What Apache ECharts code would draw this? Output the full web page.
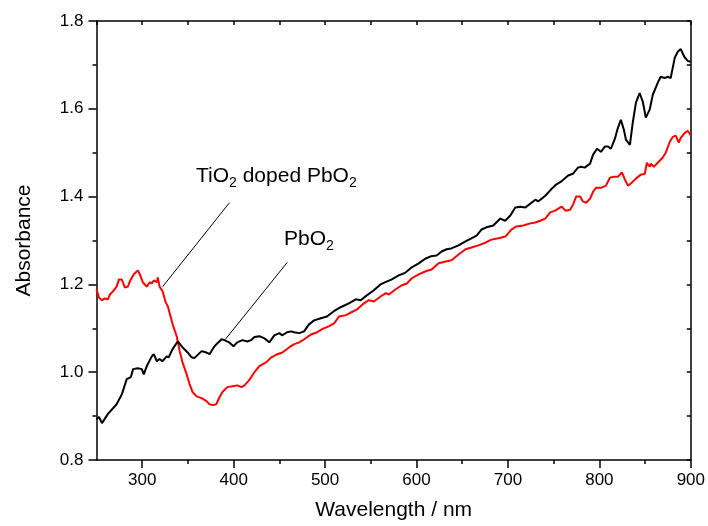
<!DOCTYPE html>
<html>
<head>
<meta charset="utf-8">
<script src="https://cdn.jsdelivr.net/npm/echarts@6/dist/echarts.min.js"></script>
<style>html,body{margin:0;padding:0;background:#fff}#c{width:708px;height:526px}</style>
</head>
<body>
<div id="c"></div>
<script>
// PbO2 (black)
const pbo2Wl = [250,252.7,256,262.5,272,277.8,283,287.6,290,295,299.6,301.7,305,310.5,312.6,316,319,322,326.8,329,333,338.8,344,349.7,354,357,365,370,373.6,379,386.8,390,395,399.8,404,409.6,415,419,422.7,428.2,433.7,439,444.5,450,453,458.4,463,466,471.8,477,482.4,488,495.5,502,509.6,517,526,533.6,539,545.6,553,560.6,566,572.5,580,588,594.8,602.4,610,615.6,622,627.5,633,638,646,653.6,660,665.7,671,676.5,684,691.7,697,702.6,708,713.5,719,724.5,730,733,740.8,747,753,758,765.8,771,776.6,780,784,789.8,793,797.4,801.7,806,809.4,812.6,817,820,823.5,826.8,829,833.4,836.6,840,844,847.5,850.8,855,858.4,863.8,867,871.4,874.7,878,882.4,885.7,889,893,896.7,900];
const pbo2Abs = [0.893,0.898,0.884,0.905,0.927,0.950,0.984,0.989,1.007,1.009,1.007,0.995,1.014,1.036,1.041,1.025,1.030,1.025,1.036,1.034,1.052,1.070,1.057,1.045,1.034,1.032,1.048,1.045,1.041,1.059,1.075,1.073,1.068,1.059,1.068,1.073,1.070,1.073,1.080,1.082,1.077,1.068,1.084,1.089,1.084,1.091,1.093,1.091,1.089,1.093,1.109,1.118,1.123,1.127,1.139,1.148,1.157,1.166,1.164,1.175,1.186,1.200,1.205,1.211,1.220,1.227,1.239,1.248,1.259,1.264,1.266,1.275,1.280,1.282,1.289,1.298,1.305,1.311,1.325,1.330,1.334,1.350,1.345,1.357,1.375,1.377,1.375,1.384,1.393,1.389,1.402,1.416,1.428,1.434,1.448,1.452,1.466,1.468,1.466,1.475,1.495,1.509,1.502,1.514,1.514,1.509,1.532,1.555,1.575,1.552,1.530,1.518,1.570,1.614,1.636,1.616,1.580,1.598,1.632,1.659,1.673,1.670,1.673,1.670,1.716,1.730,1.736,1.718,1.709,1.707];
// TiO2 doped PbO2 (red)
const tio2Wl = [250,252.7,256,259.3,262.5,264.7,268,272,274.5,277.8,281,284.3,286.5,290.8,295.2,297.4,300.6,305,308.3,310.5,312.6,316,317,319,322.4,325.7,328,331,333.3,337.7,341,344,348.6,351.8,355,359.5,365,370.3,373.6,377,381,384.5,387.8,393,398.7,404,408.5,411.8,417,422.7,428.2,435.8,441.3,447.8,453.3,460.9,466.3,471.8,477.2,484.8,491.3,496.7,504.4,509.8,515.3,522.9,528.3,534.9,542.5,547.9,553.4,561,566.5,569.7,577.3,583.9,589.5,594.8,602.4,610,616.5,624.2,631.8,638.3,646,653.6,660.1,667.7,675.3,681.9,689.5,697.2,703.7,709.2,716.8,724.4,729.9,735.3,740.8,746.2,751.7,755.5,758.8,763,768,771.3,774.5,778.9,782,785.4,789.8,793,796.3,801.8,807.2,811.5,814.8,820.2,824.6,827.9,831.2,834.4,839.9,845.3,849.7,851.9,855.1,856.3,859.5,863.9,869.3,872.6,877,880.2,883.5,886.8,889,893.3,896.6,900];
const tio2Abs = [1.189,1.170,1.164,1.168,1.166,1.177,1.184,1.195,1.211,1.211,1.193,1.195,1.207,1.223,1.232,1.223,1.205,1.195,1.205,1.202,1.209,1.205,1.216,1.195,1.184,1.159,1.150,1.127,1.109,1.082,1.048,1.023,0.995,0.973,0.955,0.945,0.941,0.934,0.927,0.925,0.927,0.943,0.955,0.966,0.968,0.970,0.966,0.970,0.982,1.000,1.014,1.023,1.034,1.041,1.045,1.057,1.064,1.068,1.075,1.086,1.091,1.098,1.105,1.111,1.127,1.130,1.136,1.143,1.157,1.164,1.161,1.173,1.180,1.177,1.189,1.198,1.202,1.214,1.223,1.230,1.234,1.248,1.252,1.255,1.268,1.280,1.284,1.289,1.295,1.302,1.305,1.309,1.325,1.332,1.334,1.339,1.341,1.345,1.350,1.364,1.368,1.373,1.377,1.368,1.370,1.382,1.400,1.400,1.389,1.386,1.395,1.411,1.420,1.420,1.425,1.443,1.445,1.445,1.455,1.439,1.425,1.430,1.441,1.450,1.452,1.477,1.468,1.475,1.468,1.477,1.489,1.500,1.525,1.536,1.539,1.523,1.534,1.545,1.550,1.539];
// tick values
const xMajorTicks = [300,400,500,600,700,800,900];
const xMinorTicks = [350,450,550,650,750,850];
// leader lines [from, to] in data coordinates
const tio2Leader = [[322.4,1.195],[395.4,1.386]];
const pbo2Leader = [[391,1.075],[458.6,1.250]];

const FONT = '"Liberation Sans", Arial, sans-serif';
const zip = (a,b) => a.map((v,i)=>[v,b[i]]);
const chart = echarts.init(document.getElementById('c'), null, {renderer:'canvas'});
const axisLineStyle = {color:'#000', width:1.5};
chart.setOption({
  animation:false,
  backgroundColor:'#fff',
  grid:{left:96.5, right:14.3, top:21, bottom:65},
  xAxis:[
    {type:'value', min:250, max:900, position:'bottom',
     name:'Wavelength / nm', nameLocation:'middle', nameGap:40,
     nameTextStyle:{fontSize:21, fontFamily:FONT, color:'#000'},
     axisLine:{show:true, lineStyle:axisLineStyle},
     axisTick:{show:true, length:8, lineStyle:axisLineStyle, customValues:xMajorTicks},
     axisLabel:{show:true, customValues:xMajorTicks, fontSize:17, fontFamily:FONT, color:'#000', margin:12},
     splitLine:{show:false}},
    {type:'value', min:250, max:900, position:'bottom',
     axisLine:{show:false},
     axisTick:{show:true, length:4, lineStyle:axisLineStyle, customValues:xMinorTicks},
     axisLabel:{show:false}, splitLine:{show:false}},
    {type:'value', min:250, max:900, interval:50, position:'top',
     axisLine:{show:true, lineStyle:axisLineStyle},
     axisTick:{show:true, inside:true, length:4, lineStyle:axisLineStyle},
     axisLabel:{show:false}, splitLine:{show:false}}
  ],
  yAxis:[
    {type:'value', min:0.8, max:1.8, interval:0.2, position:'left',
     name:'Absorbance', nameLocation:'middle', nameGap:62,
     nameTextStyle:{fontSize:21, fontFamily:FONT, color:'#000'},
     axisLine:{show:true, lineStyle:axisLineStyle},
     axisTick:{show:true, length:8, lineStyle:axisLineStyle},
     minorTick:{show:true, splitNumber:2, length:4, lineStyle:axisLineStyle},
     axisLabel:{fontSize:17, fontFamily:FONT, color:'#000', margin:13, formatter:v=>v.toFixed(1)},
     splitLine:{show:false}},
    {type:'value', min:0.8, max:1.8, interval:0.2, position:'right',
     axisLine:{show:true, lineStyle:axisLineStyle},
     axisTick:{show:true, inside:true, length:4, lineStyle:axisLineStyle},
     minorTick:{show:true, splitNumber:2, length:4, lineStyle:axisLineStyle},
     axisLabel:{show:false}, splitLine:{show:false}}
  ],
  series:[
    {type:'line', name:'PbO2', data:zip(pbo2Wl,pbo2Abs), xAxisIndex:0, yAxisIndex:0,
     showSymbol:false, symbol:'none', lineStyle:{color:'#000', width:2}, z:3,
     markLine:{silent:true, symbol:'none', label:{show:false}, lineStyle:{color:'#000', width:1, type:'solid'},
       data:[[{coord:pbo2Leader[0]},{coord:pbo2Leader[1]}]]}},
    {type:'line', name:'TiO2 doped PbO2', data:zip(tio2Wl,tio2Abs), xAxisIndex:0, yAxisIndex:0,
     showSymbol:false, symbol:'none', lineStyle:{color:'#ff0000', width:2}, z:2,
     markLine:{silent:true, symbol:'none', label:{show:false}, lineStyle:{color:'#000', width:1, type:'solid'},
       data:[[{coord:tio2Leader[0]},{coord:tio2Leader[1]}]]}}
  ],
  graphic:[
    {type:'text', left:196, top:166, style:{text:'TiO{s|2} doped PbO{s|2}', fontSize:21, fontFamily:FONT, fill:'#000',
      rich:{s:{fontSize:14, fontFamily:FONT, fill:'#000', padding:[14,0,0,0]}}}},
    {type:'text', left:284, top:229, style:{text:'PbO{s|2}', fontSize:21, fontFamily:FONT, fill:'#000',
      rich:{s:{fontSize:14, fontFamily:FONT, fill:'#000', padding:[14,0,0,0]}}}}
  ]
});
</script>
</body>
</html>
